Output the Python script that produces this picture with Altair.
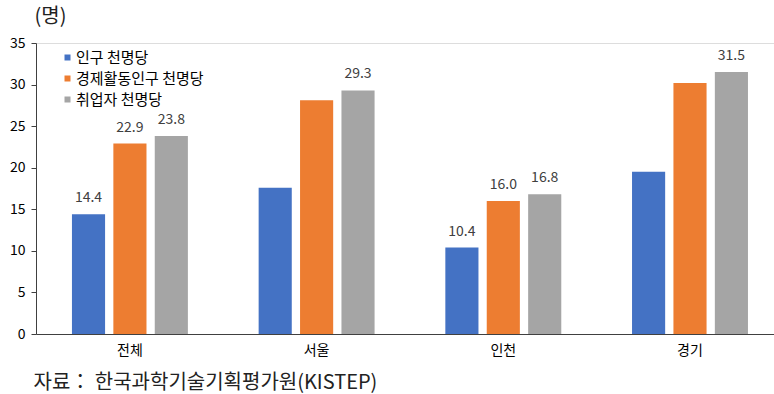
import altair as alt
import pandas as pd

categories = ["전체", "서울", "인천", "경기"]
series = ["인구 천명당", "경제활동인구 천명당", "취업자 천명당"]
pop = [14.4, 17.6, 10.4, 19.5]
econ = [22.9, 28.1, 16.0, 30.2]
emp = [23.8, 29.3, 16.8, 31.5]
shown = {
    ("전체", 0): True, ("전체", 1): True, ("전체", 2): True,
    ("서울", 2): True,
    ("인천", 0): True, ("인천", 1): True, ("인천", 2): True,
    ("경기", 2): True,
}
colors = ["#4472C4", "#ED7D31", "#A5A5A5"]

rows = []
for i, c in enumerate(categories):
    for j, vals in enumerate([pop, econ, emp]):
        v = vals[i]
        rows.append({
            "cat": c, "series": series[j], "order": j, "value": v,
            "label": f"{v:.1f}" if shown.get((c, j)) else "",
        })
df = pd.DataFrame(rows)

FONT = "Noto Sans CJK KR"

x = alt.X("cat:N", sort=categories,
          scale=alt.Scale(paddingInner=0.379, paddingOuter=0.166, align=0.58),
          axis=alt.Axis(title="자료： 한국과학기술기획평가원(KISTEP)", labelAngle=0,
                        ticks=False, domainColor="#404040", labelColor="#000000",
                        labelFontSize=14, labelPadding=9, labelFont=FONT,
                        titleFont=FONT, titleFontSize=20, titleFontWeight="normal",
                        titleColor="#222222", titleAnchor="start", titleAlign="left",
                        titleBaseline="middle", titleX=-3, titleY=48))
xo = alt.XOffset("series:N", sort=series, scale=alt.Scale(paddingInner=0.2))
y = alt.Y("value:Q", scale=alt.Scale(domain=[0, 35], nice=False),
          axis=alt.Axis(values=[0, 5, 10, 15, 20, 25, 30, 35], grid=False,
                        title="(명)", titleAngle=0, titleAlign="left",
                        titleBaseline="middle", titleX=-2, titleY=-27,
                        titleFont=FONT, titleFontSize=20, titleFontWeight="normal",
                        titleColor="#222222", titleLimit=200,
                        domainColor="#404040", tickColor="#404040", tickSize=5,
                        labelFontSize=14, labelFont=FONT, labelColor="#000000",
                        labelPadding=6))

bars = alt.Chart(df).mark_bar().encode(
    x=x, xOffset=xo, y=y,
    color=alt.Color("series:N", sort=series,
                    scale=alt.Scale(domain=series, range=colors),
                    legend=alt.Legend(title=None, orient="none", legendX=24, legendY=7,
                                      symbolType="square", symbolSize=36,
                                      symbolStrokeWidth=0, labelFont=FONT,
                                      labelFontSize=15, labelColor="#000000",
                                      labelOffset=1, rowPadding=5)),
)
labels = alt.Chart(df).mark_text(dy=-16, fontSize=14, font=FONT, color="#404040").encode(
    x=x, xOffset=xo, y=y, text="label:N",
)

chart = (bars + labels).properties(
    width=738, height=291,
    autosize=alt.AutoSizeParams(type="none"),
    padding={"left": 36, "top": 43, "right": 0, "bottom": 60},
).configure_view(stroke=None).configure(background="white")

chart.save("out.html", embed_options={"renderer": "svg", "actions": False})
